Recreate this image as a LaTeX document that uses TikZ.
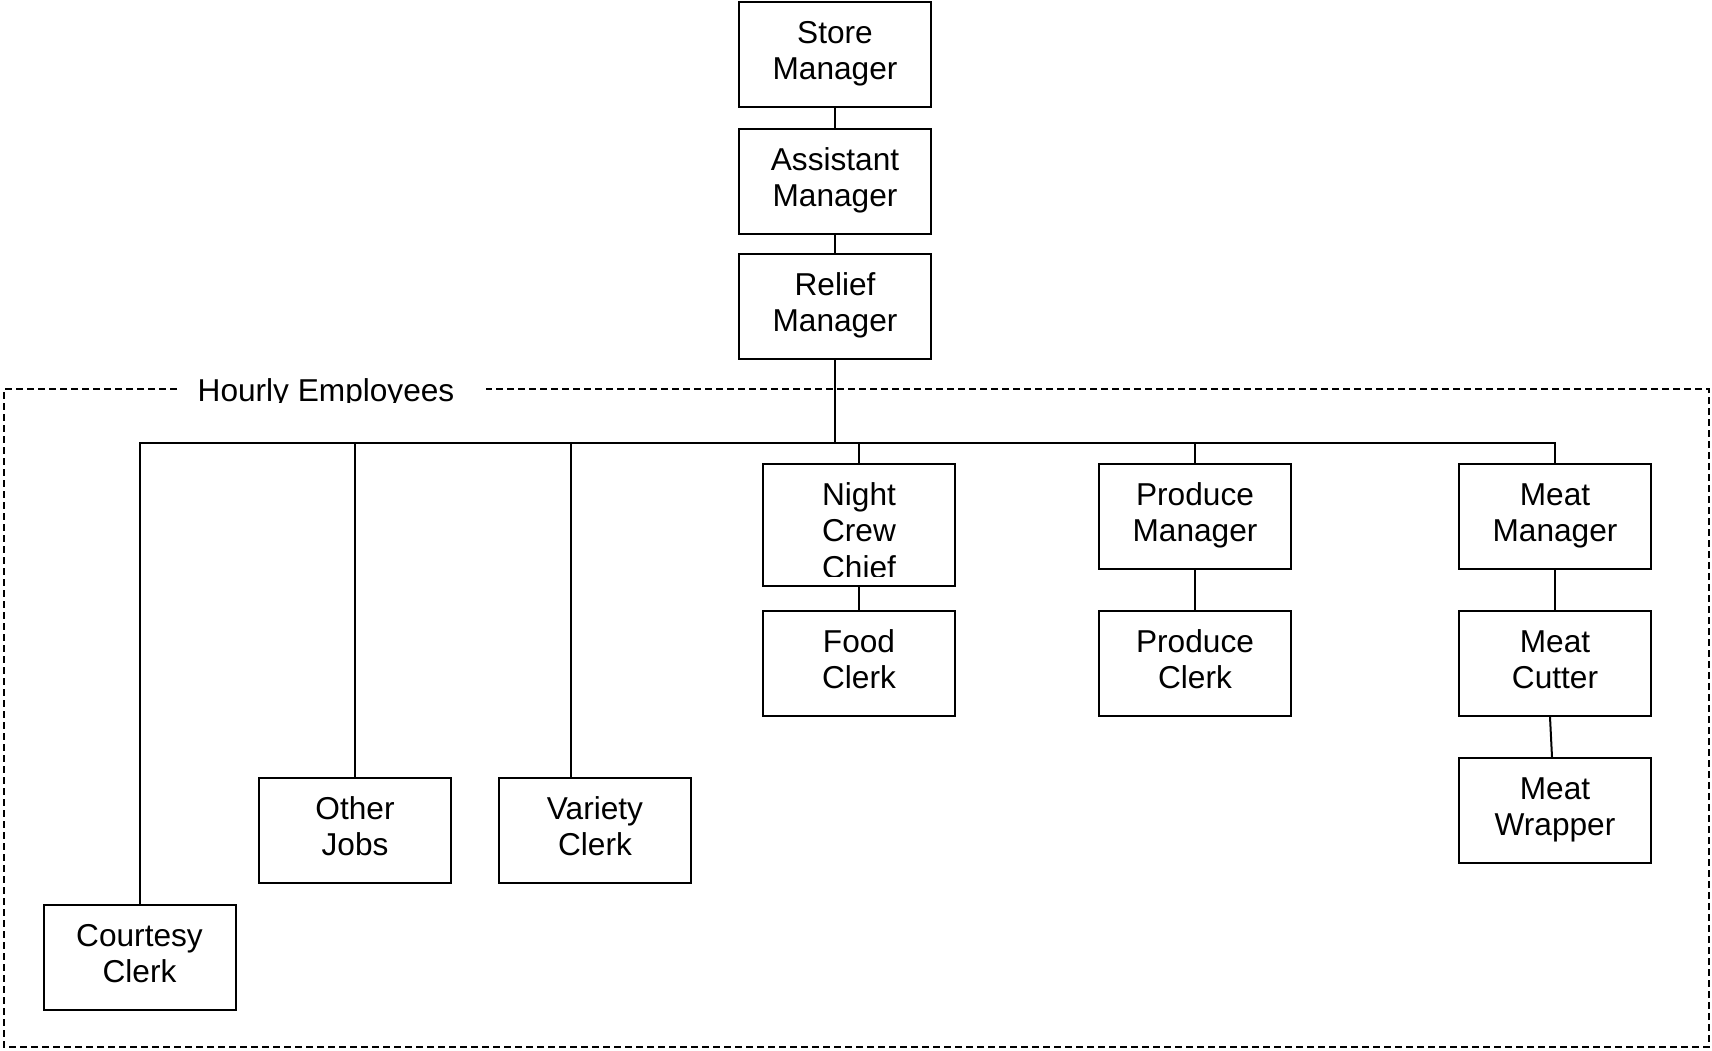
\documentclass[tikz,border=0pt]{standalone}
\usepackage{fontspec}
\setmainfont{Liberation Sans}
\usepackage{tikz}
\usetikzlibrary{
        shapes,
        positioning
    }

\begin{document}
\begin{tikzpicture}
[baseshape/.style={minimum width=3.84cm, minimum height=2.1cm, text centered, align=center, font=\fontsize{18}{20.5}\selectfont, draw=black, line width=0.04cm, inner sep=0pt, text depth=0.17cm},
box/.style={baseshape, rectangle, fill=white},
line/.style={line width=0.04cm},
group/.style={line width=0.035cm, dash pattern=on 0.14cm off 0.08cm},
node distance=2.94cm,]
\useasboundingbox (0,0) rectangle (34.24,-21);

\node (store) [box] at (16.70,-1.09) {Store\\Manager};
\node (assist) [box, below of =store, yshift = 0.40cm] {Assistant\\Manager};
\node (relief) [box, below of =assist, yshift = 0.44cm] {Relief\\Manager};

\node (night) [box, minimum height=2.44cm] at (17.18,-10.50) {};
\begin{scope}
\clip (night.north west) rectangle ([yshift=0.22cm]night.south east);
\node (nighttext) [anchor=base, align=center, font=\fontsize{18}{20.5}\selectfont, inner sep=0pt] at (17.18,-11.56) {Night\\Crew\\Chief};
\end{scope}
\node (food) [box, below of =night, yshift = 0.17cm] {Food\\Clerk};

\node (producem) [box] at (23.90,-10.33) {Produce\\Manager};
\node (producec) [box, below of =producem] {Produce\\Clerk};

\node (meatm) [box] at (31.10,-10.33) {Meat\\Manager};
\node (cutter) [box, below of =meatm] {Meat\\Cutter};
\node (wrapper) [box, below of =cutter] {Meat\\Wrapper};

\node (other) [box] at (7.10,-16.61) {Other\\Jobs};
\node (variety) [box] at (11.90,-16.61) {Variety\\Clerk};
\node (courtesy) [box] at (2.79,-19.15) {Courtesy\\Clerk};

\draw [line] (store) -- (assist);
\draw [line] (assist) -- (relief);

\coordinate (bus) at (16.70,-8.86);
\coordinate (varietyin) at ([xshift=-0.48cm]variety.north);
\draw [line] (relief.south) -- (bus);
\draw [line] (courtesy.north) |- (bus) -| (meatm.north);
\draw [line] (other.north) -- (other.north |- bus);
\draw [line] (varietyin) -- (varietyin |- bus);
\draw [line] (night.north) -- (night.north |- bus);
\draw [line] (producem.north) -- (producem.north |- bus);

\draw [line] (night) -- (food);
\draw [line] (producem) -- (producec);
\draw [line] (meatm) -- (cutter);
\draw [line] ([xshift=-0.1cm]cutter.south) -- ([xshift=-0.06cm]wrapper.north);

\draw [group] (3.54,-7.78) -- (0.08,-7.78) -- (0.08,-20.94) -- (34.18,-20.94) -- (34.18,-7.78) -- (9.72,-7.78);
\begin{scope}
\clip (3.54,-7.0) rectangle (9.72,-8.04);
\node (hourly) [anchor=base, font=\fontsize{18}{20.5}\selectfont, inner sep=0pt] at (6.52,-8.02) {Hourly Employees};
\end{scope}

\end{tikzpicture}
\end{document}
